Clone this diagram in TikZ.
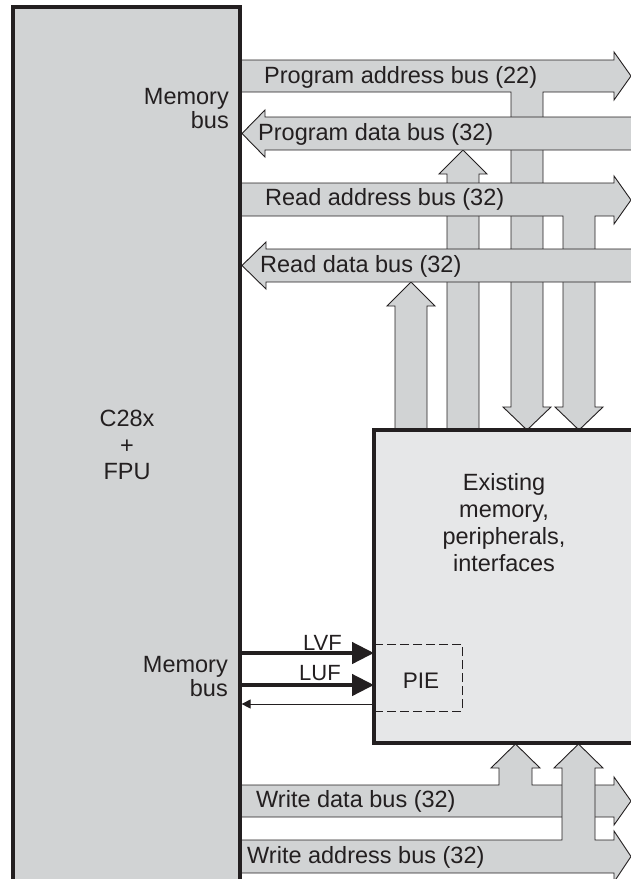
\documentclass[tikz,border=0pt]{standalone}
\usepackage{fontspec}
\setmainfont{Liberation Sans}
\usepackage{tikz}
\usetikzlibrary{arrows.meta}
\definecolor{busgray}{RGB}{209,211,212}
\definecolor{boxgray}{RGB}{230,231,232}
\definecolor{ink}{RGB}{35,31,32}

\begin{document}
\begin{tikzpicture}[x=1pt,y=-1pt,bus/.style={draw=ink,fill=busgray,line width=0.9pt,line join=miter},blk/.style n args={3}{draw=ink,fill=#1,line width=3.2pt,rectangle,inner sep=0pt,outer sep=0pt,anchor=north west,minimum width=#2pt,minimum height=#3pt},lbl/.style={text=ink,inner sep=0pt,font=\fontsize{23.5}{#1}\selectfont},sig/.style={draw=ink,line width=4.5pt,-{Triangle[length=22pt,width=21pt]}},ack/.style={draw=ink,line width=0.9pt,shorten >=1.6pt,-{Triangle[length=9pt,width=9pt]}}]
\useasboundingbox (0,0) rectangle (631,879);
\clip (0,0) rectangle (631,879);
\draw[bus] (447,430) -- (447,174) -- (439,174) -- (463,150) -- (487,174) -- (479,174) -- (479,430) -- cycle;
\draw[bus] (240,60) -- (614,60) -- (614,52) -- (631,76) -- (614,100) -- (614,92) -- (543,92) -- (543,407) -- (551,407) -- (527,430) -- (503,407) -- (511,407) -- (511,92) -- (240,92) -- cycle;
\draw[bus] (645,117) -- (265,117) -- (265,110) -- (242,133.5) -- (265,157) -- (265,150) -- (645,150) -- cycle;
\draw[bus] (240,183) -- (614,183) -- (614,176) -- (631,200) -- (614,224) -- (614,216) -- (595,216) -- (595,407) -- (603,407) -- (579,430) -- (555,407) -- (563,407) -- (563,216) -- (240,216) -- cycle;
\draw[bus] (395,430) -- (395,306) -- (387,306) -- (411,282) -- (435,306) -- (427,306) -- (427,430) -- cycle;
\draw[bus] (645,249) -- (266,249) -- (266,242) -- (242,265.5) -- (266,289) -- (266,282) -- (645,282) -- cycle;
\draw[bus] (240,785) -- (499,785) -- (499,768) -- (491,768) -- (515.5,744) -- (540,768) -- (532,768) -- (532,785) -- (614,785) -- (614,777) -- (631,801) -- (614,825) -- (614,817) -- (240,817) -- cycle;
\draw[bus] (240,840) -- (562,840) -- (562,768) -- (554,768) -- (578.5,744) -- (603,768) -- (595,768) -- (595,840) -- (614,840) -- (614,831) -- (631,856.5) -- (614,882) -- (614,873) -- (240,873) -- cycle;
\node[blk={boxgray}{280}{313}] (mem) at (374,430) {};
\node[draw=ink,line width=0.9pt,dash pattern=on 9pt off 4pt,rectangle,inner sep=0pt,outer sep=0pt,anchor=north west,minimum width=88pt,minimum height=67pt] (pie) at (374,644) {};
\node[lbl=27,align=center] (memtxt) at (504,523) {Existing\\memory,\\peripherals,\\interfaces};
\node[lbl=27,font=\fontsize{22.5}{27}\selectfont] (pietxt) at (421,681) {PIE};
\node[blk={busgray}{227}{900}] (cpu) at (13,7) {};
\node[lbl=26.5,align=center] (core) at (127,445) {C28x\\+\\FPU};
\node[lbl=24,align=right,anchor=east] (mbtop) at (229,109) {Memory\\bus};
\node[lbl=24,align=right,anchor=east] (mbbot) at (228,676.5) {Memory\\bus};
\draw[sig] (cpu.east |- 0,653) -- (mem.west |- 0,653);
\draw[sig] (cpu.east |- 0,685) -- (mem.west |- 0,685);
\draw[ack] (mem.west |- 0,704) -- (cpu.east |- 0,704);
\node[lbl=27,font=\fontsize{22}{27}\selectfont,anchor=base east] (lvf) at (342,650) {LVF};
\node[lbl=27,font=\fontsize{22}{27}\selectfont,anchor=base east] (luf) at (341,680) {LUF};
\foreach \n/\x/\y/\t in %
{paddr/264/83/{Program address bus (22)},pdata/258/140/{Program data bus (32)},raddr/265/205/{Read address bus (32)},rdata/260/272/{Read data bus (32)},wdata/256/807/{Write data bus (32)},waddr/247/863/{Write address bus (32)}} {
   \node[lbl=27,anchor=base west] (\n) at (\x,\y) {\t};
}
\end{tikzpicture}
\end{document}
